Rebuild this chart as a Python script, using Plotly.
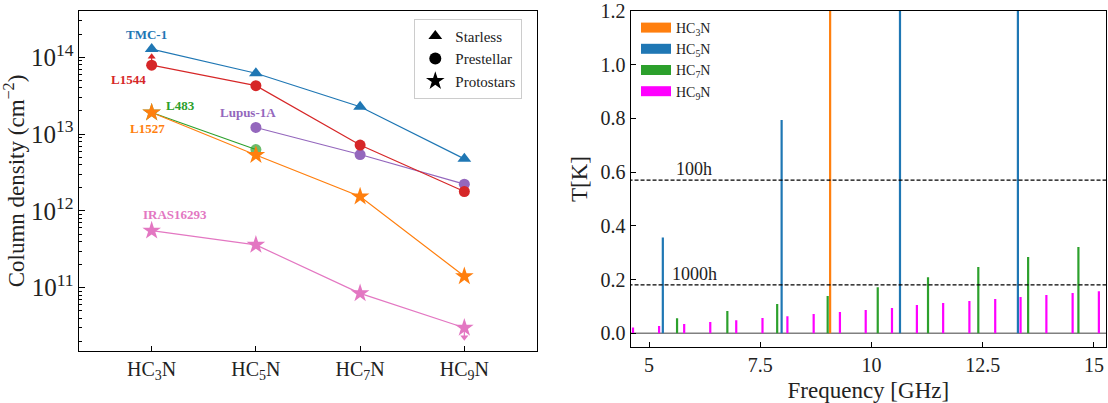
import plotly.graph_objects as go
import numpy as np

# ---------------- Left panel data ----------------
molecules = ["HC<sub>3</sub>N", "HC<sub>5</sub>N", "HC<sub>7</sub>N", "HC<sub>9</sub>N"]
mol_idx = [0, 1, 2, 3]

tmc1 = [1.28e14, 6.2e13, 2.27e13, 4.76e12]
l1544 = [7.9e13, 4.27e13, 7.2e12, 1.79e12]
l483 = [1.91e13, 6.3e12, None, None]
l1527 = [1.91e13, 5.34e12, 1.54e12, 1.41e11]
lupus = [None, 1.22e13, 5.42e12, 2.23e12]
iras = [5.53e11, 3.61e11, 8.45e10, 3.01e10]

l1544_limit = [1.02e14]      # at HC3N
iras_limit = [2.26e10]       # at HC9N

# ---------------- Right panel data ----------------
hc3n_f = [9.07]
hc3n_T = [2.5]
hc5n_f = [5.31, 7.98, 10.64, 13.29]
hc5n_T = [0.357, 0.794, 1.9, 1.7]
hc7n_f = [5.63, 6.76, 7.88, 9.015, 10.14, 11.27, 12.40, 13.52, 14.65]
hc7n_T = [0.056, 0.083, 0.109, 0.139, 0.171, 0.209, 0.247, 0.284, 0.321]
hc9n_f = [4.64, 5.226, 5.79, 6.376, 6.96, 7.55, 8.11, 8.70, 9.29, 9.87,
          10.46, 11.02, 11.61, 12.20, 12.78, 13.35, 13.93, 14.52, 15.11]
hc9n_T = [0.022, 0.027, 0.035, 0.042, 0.049, 0.057, 0.064, 0.072, 0.079, 0.087,
          0.094, 0.105, 0.113, 0.120, 0.128, 0.135, 0.143, 0.150, 0.157]
thr_100h = 0.570
thr_1000h = 0.180

BLUE, ORANGE, GREEN, RED, PURPLE, PINK = "#1f77b4", "#ff7f0e", "#2ca02c", "#d62728", "#9467bd", "#e377c2"
MAGENTA = "#ff00ff"
FONT = "Liberation Serif, serif"

fig = go.Figure()

def series(y, color, symbols, sizes, name):
    fig.add_trace(go.Scatter(x=mol_idx, y=y, mode="lines+markers", connectgaps=False,
                             line=dict(color=color, width=1.2),
                             marker=dict(color=color, symbol=symbols, size=sizes, line=dict(width=0)),
                             showlegend=False, name=name, xaxis="x", yaxis="y"))

TRI, CIR, STAR = "triangle-up", "circle", "star"
series(tmc1, BLUE, TRI, 12, "TMC-1")
series(lupus, PURPLE, CIR, 11, "Lupus-1A")
series(l1544, RED, CIR, 11, "L1544")
series(l483, GREEN, [STAR, CIR, CIR, CIR], [14, 11, 11, 11], "L483")
series(l1527, ORANGE, STAR, 14, "L1527")
series(iras, PINK, STAR, 14, "IRAS16293")

# limit arrows
fig.add_trace(go.Scatter(x=[0, 0], y=[l1544[0], l1544_limit[0]], mode="lines", line=dict(color=RED, width=1.2),
                         showlegend=False, xaxis="x", yaxis="y"))
fig.add_trace(go.Scatter(x=[0], y=l1544_limit, mode="markers", marker=dict(symbol="triangle-up", size=7, color=RED),
                         showlegend=False, xaxis="x", yaxis="y"))
fig.add_trace(go.Scatter(x=[3, 3], y=[iras[3], iras_limit[0]], mode="lines", line=dict(color=PINK, width=1.2),
                         showlegend=False, xaxis="x", yaxis="y"))
fig.add_trace(go.Scatter(x=[3], y=iras_limit, mode="markers", marker=dict(symbol="triangle-down", size=7, color=PINK),
                         showlegend=False, xaxis="x", yaxis="y"))

# legend entries (left)
for sym, nm, sz in [(TRI, "Starless", 12), (CIR, "Prestellar", 12), (STAR, "Protostars", 14)]:
    fig.add_trace(go.Scatter(x=[None], y=[None], mode="markers", marker=dict(symbol=sym, color="black", size=sz),
                             name=nm, legend="legend", xaxis="x", yaxis="y"))

# ---------------- Right panel ----------------
def vlines(freqs, temps, color, width):
    xs, ys = [], []
    for f, t in zip(freqs, temps):
        xs += [f, f, None]
        ys += [0, t, None]
    fig.add_trace(go.Scatter(x=xs, y=ys, mode="lines", line=dict(color=color, width=width),
                             showlegend=False, xaxis="x2", yaxis="y2", hoverinfo="skip"))

# zero line
fig.add_trace(go.Scatter(x=[4.0, 16.0], y=[0, 0], mode="lines", line=dict(color="#808080", width=1.5),
                         showlegend=False, xaxis="x2", yaxis="y2"))
vlines(hc9n_f, hc9n_T, MAGENTA, 2.2)
vlines(hc7n_f, hc7n_T, GREEN, 2.2)
vlines(hc5n_f, hc5n_T, BLUE, 2.2)
vlines(hc3n_f, hc3n_T, ORANGE, 2.2)

for thr in [thr_100h, thr_1000h]:
    fig.add_trace(go.Scatter(x=[4.0, 16.0], y=[thr, thr], mode="lines",
                             line=dict(color="black", width=1.2, dash="4px,2px"),
                             showlegend=False, xaxis="x2", yaxis="y2"))

for nm, col in [("HC<sub>3</sub>N", ORANGE), ("HC<sub>5</sub>N", BLUE), ("HC<sub>7</sub>N", GREEN), ("HC<sub>9</sub>N", MAGENTA)]:
    fig.add_trace(go.Scatter(x=[None], y=[None], mode="lines", line=dict(color=col, width=10),
                             name=nm, legend="legend2", xaxis="x2", yaxis="y2"))

W, H = 1108, 403
def px_x(p): return p / W
def px_y(p): return 1 - p / H

axis_common = dict(showline=True, linecolor="black", linewidth=1.2, mirror=True, ticks="inside",
                   tickcolor="black", showgrid=False, zeroline=False, ticklabeloverflow="allow",
                   automargin=False,
                   tickfont=dict(family=FONT, size=20, color="#222"))

fig.update_layout(
    width=W, height=H, margin=dict(l=0, r=0, t=0, b=0, autoexpand=False),
    paper_bgcolor="white", plot_bgcolor="white",
    font=dict(family=FONT, color="#222"),
    xaxis=dict(domain=[px_x(78.7), px_x(537.3)], range=[-0.7, 3.7], tickvals=mol_idx, ticktext=molecules,
               ticklen=5, anchor="y", **axis_common),
    yaxis=dict(domain=[px_y(351), px_y(11)], type="log", range=[10.176, 14.603], dtick=1,
               exponentformat="power", ticklen=6, anchor="x",
               minor=dict(ticks="inside", ticklen=3, tickcolor="black", showgrid=False),
               title=dict(text="Column density (cm<sup>−2</sup>)", font=dict(family=FONT, size=23, color="#222"),
                          standoff=10),
               **axis_common),
    xaxis2=dict(domain=[px_x(630.7), px_x(1106)], range=[4.588, 15.27], tickvals=[5, 7.5, 10, 12.5, 15],
                ticktext=["5", "7.5", "10", "12.5", "15"], ticklen=5, anchor="y2",
                title=dict(text="Frequency [GHz]", font=dict(family=FONT, size=23, color="#222"), standoff=6),
                **axis_common),
    yaxis2=dict(domain=[px_y(347.3), px_y(10.7)], range=[-0.052, 1.2005],
                tickvals=[0, 0.2, 0.4, 0.6, 0.8, 1.0, 1.2],
                ticktext=["0.0", "0.2", "0.4", "0.6", "0.8", "1.0", "1.2"], ticklen=5, anchor="x2",
                title=dict(text="T[K]", font=dict(family=FONT, size=23, color="#222"), standoff=6),
                **axis_common),
    legend=dict(x=px_x(414.3), y=px_y(18.7), xanchor="left", yanchor="top", bgcolor="white",
                bordercolor="#cccccc", borderwidth=1, font=dict(family=FONT, size=15, color="#222"),
                itemsizing="trace", tracegroupgap=0),
    legend2=dict(x=px_x(636), y=px_y(12), xanchor="left", yanchor="top", bgcolor="rgba(255,255,255,0)",
                 borderwidth=0, font=dict(family=FONT, size=14, color="#222"), tracegroupgap=0),
)

# left panel labels
labels = [("TMC-1", -0.046, 14.30, BLUE), ("L1544", -0.218, 13.706, RED), ("L483", 0.272, 13.37, GREEN),
          ("L1527", -0.038, 13.07, ORANGE), ("Lupus-1A", 0.924, 13.279, PURPLE), ("IRAS16293", 0.224, 11.957, PINK)]
for txt, xx, yy, col in labels:
    fig.add_annotation(x=xx, y=yy, xref="x", yref="y", text=f"<b>{txt}</b>", showarrow=False,
                       font=dict(family=FONT, size=13, color=col))

# threshold labels
fig.add_annotation(x=5.57, y=thr_100h, xref="x2", yref="y2", text="100h", showarrow=False, xanchor="left",
                   yanchor="bottom", yshift=-1, font=dict(family=FONT, size=18, color="#222"))
fig.add_annotation(x=5.47, y=thr_1000h, xref="x2", yref="y2", text="1000h", showarrow=False, xanchor="left",
                   yanchor="bottom", yshift=-1, font=dict(family=FONT, size=18, color="#222"))

fig.write_html("out.html")
